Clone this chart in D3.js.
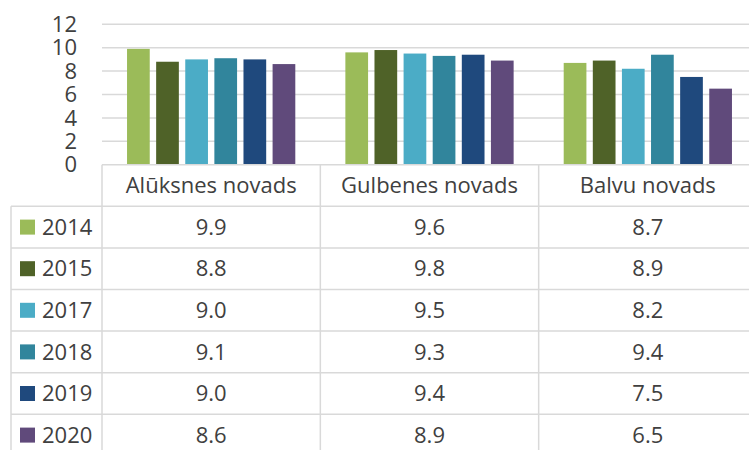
<!DOCTYPE html>
<html>
<head>
<meta charset="utf-8">
<script src="https://cdn.jsdelivr.net/npm/d3@7"></script>
<style>
  body { margin: 0; background: #fff; }
  svg { display: block; font-family: "Open Sans", sans-serif; }
  .grid line { stroke: #d9d9d9; stroke-width: 1.5; }
  .tbl line { stroke: #d9d9d9; stroke-width: 1.5; }
  text { fill: #404040; }
</style>
</head>
<body>
<svg width="749" height="450"></svg>
<script>
var categories = ["Alūksnes novads", "Gulbenes novads", "Balvu novads"];
var years = ["2014", "2015", "2017", "2018", "2019", "2020"];
var colors = ["#9bbb59", "#4f6228", "#4bacc6", "#31859c", "#1f497d", "#604a7b"];
var values = [
  [9.9, 9.6, 8.7],
  [8.8, 9.8, 8.9],
  [9.0, 9.5, 8.2],
  [9.1, 9.3, 9.4],
  [9.0, 9.4, 7.5],
  [8.6, 8.9, 6.5]
];
var yTicks = [0, 2, 4, 6, 8, 10, 12];

var svg = d3.select("svg"),
  fontSize = 22,
  left = 102, right = 757,
  tableLeft = 11,
  headerTop = 164.7,
  rowH = 41.6;

var x0 = d3.scaleBand().domain(categories).range([left, right]);
var x1 = d3.scaleBand().domain(years).range([0, x0.bandwidth()])
  .paddingInner(0.22).paddingOuter(0.86);
var y = d3.scaleLinear().domain([0, 12]).range([164.7, 24.3]);

// gridlines
svg.append("g").attr("class", "grid")
  .selectAll("line").data(yTicks.slice(1)).enter().append("line")
  .attr("x1", left).attr("x2", right)
  .attr("y1", function(d) { return y(d); })
  .attr("y2", function(d) { return y(d); });

// y tick labels
svg.append("g").selectAll("text").data(yTicks).enter().append("text")
  .attr("x", 77)
  .attr("y", function(d) { return y(d); })
  .attr("dy", "0.35em")
  .attr("text-anchor", "end")
  .style("font-size", fontSize + "px")
  .text(function(d) { return d; });

// bars
var group = svg.selectAll(".cat")
  .data(categories).enter().append("g")
  .attr("class", "cat")
  .attr("transform", function(d) { return "translate(" + x0(d) + ",0)"; });

group.selectAll("rect")
  .data(function(c, ci) { return years.map(function(yr, i) { return {year: yr, value: values[i][ci], color: colors[i]}; }); })
  .enter().append("rect")
  .attr("x", function(d) { return x1(d.year); })
  .attr("width", x1.bandwidth())
  .attr("y", function(d) { return y(d.value); })
  .attr("height", function(d) { return y(0) - y(d.value); })
  .attr("fill", function(d) { return d.color; });

// data table
var tbl = svg.append("g").attr("class", "tbl");
var firstRow = headerTop + rowH;

tbl.append("line").attr("x1", left).attr("x2", right).attr("y1", headerTop).attr("y2", headerTop);
years.forEach(function(yr, i) {
  var yy = firstRow + i * rowH;
  tbl.append("line").attr("x1", tableLeft).attr("x2", right).attr("y1", yy).attr("y2", yy);
});
tbl.append("line").attr("x1", tableLeft).attr("x2", tableLeft).attr("y1", firstRow).attr("y2", 450);
categories.forEach(function(c) {
  tbl.append("line").attr("x1", x0(c)).attr("x2", x0(c)).attr("y1", headerTop).attr("y2", 450);
});
tbl.append("line").attr("x1", right).attr("x2", right).attr("y1", headerTop).attr("y2", 450);

// header labels
svg.append("g").selectAll("text").data(categories).enter().append("text")
  .attr("x", function(d) { return x0(d) + x0.bandwidth() / 2; })
  .attr("y", headerTop + rowH / 2)
  .attr("dy", "0.35em")
  .attr("text-anchor", "middle")
  .style("font-size", fontSize + "px")
  .text(function(d) { return d; });

// legend keys and values
var row = svg.selectAll(".row")
  .data(years).enter().append("g")
  .attr("class", "row")
  .attr("transform", function(d, i) { return "translate(0," + (firstRow + i * rowH + rowH / 2) + ")"; });

row.append("rect")
  .attr("x", 20).attr("y", -7.5)
  .attr("width", 15).attr("height", 15)
  .attr("fill", function(d, i) { return colors[i]; });

row.append("text")
  .attr("x", 42).attr("dy", "0.35em")
  .style("font-size", fontSize + "px")
  .text(function(d) { return d; });

row.selectAll(".val")
  .data(function(d, i) { return values[i]; })
  .enter().append("text")
  .attr("class", "val")
  .attr("x", function(d, ci) { return x0(categories[ci]) + x0.bandwidth() / 2; })
  .attr("dy", "0.35em")
  .attr("text-anchor", "middle")
  .style("font-size", fontSize + "px")
  .text(function(d) { return d.toFixed(1); });
</script>
</body>
</html>
